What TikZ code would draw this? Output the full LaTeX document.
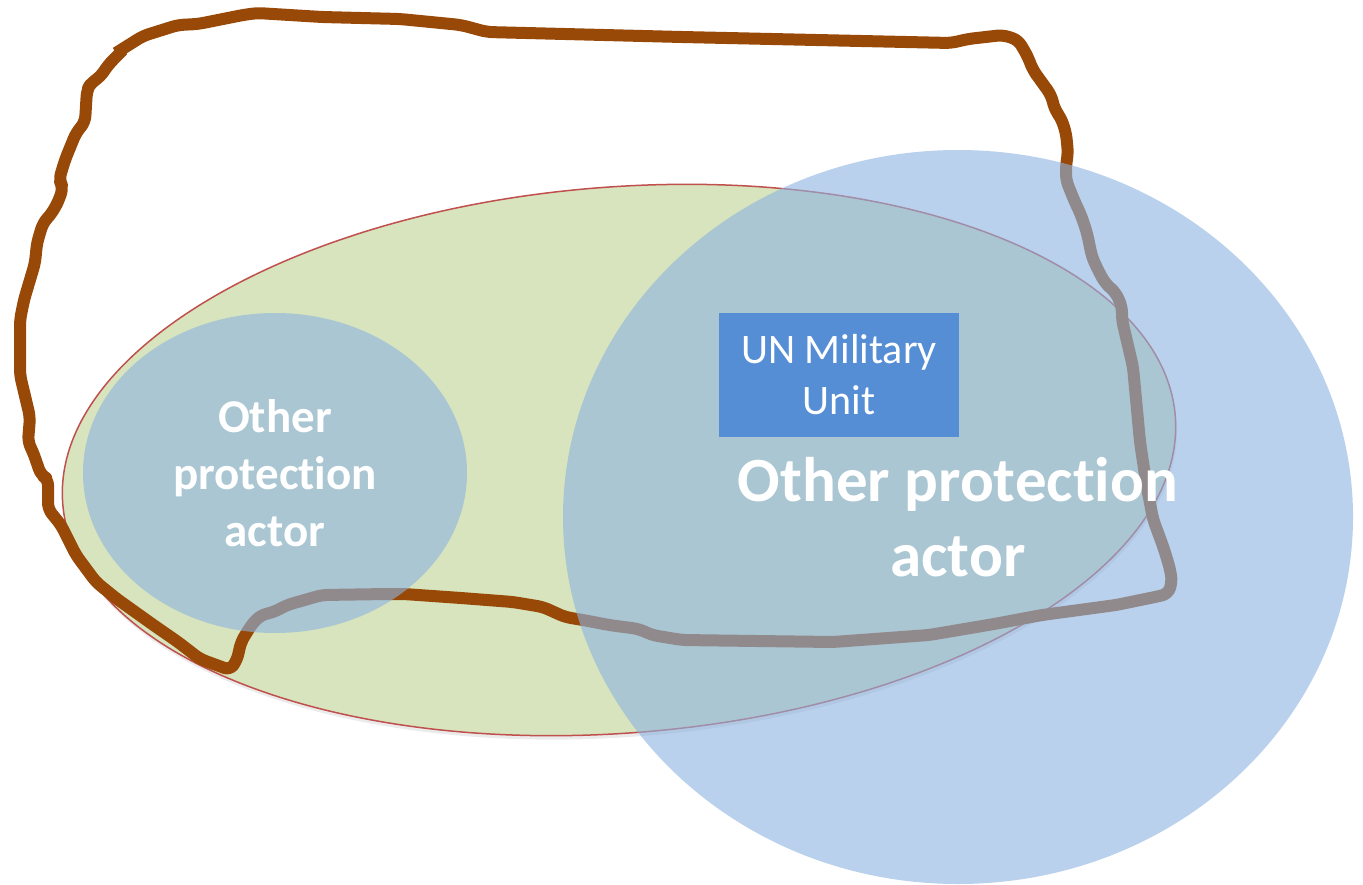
\documentclass[tikz,border=0pt]{standalone}
\usepackage{fontspec}
\setmainfont{Carlito}[Ligatures=NoCommon]
\usetikzlibrary{positioning}
\definecolor{zonegreen}{RGB}{215,228,189}
\definecolor{zonered}{RGB}{192,80,77}
\definecolor{actorblue}{RGB}{142,180,224}
\definecolor{unitblue}{RGB}{85,142,213}
\definecolor{aobrown}{RGB}{152,72,7}

\begin{document}
\begin{tikzpicture}[
    x=0.5pt, y=-0.5pt,
    actor/.style={fill=actorblue, fill opacity=0.62},
    actortext/.style={text=white, align=center, inner sep=0pt},
    unitbox/.style={fill=unitblue, text=white, align=center, inner sep=0pt,
        minimum width=120pt, minimum height=62pt, font=\fontsize{21}{25.5}\selectfont},
    aoline/.style={aobrown, line width=6pt, line join=round, rounded corners=3pt}
]
    \useasboundingbox (0,0) rectangle (1363,884);

    \fill[black, opacity=0.08, rotate around={4.5:(619,460)}] (620,464) ellipse [x radius=558, y radius=273];
    \draw[zonered, line width=0.75pt, fill=zonegreen, rotate around={4.5:(619,460)}] (619,460) ellipse [x radius=558, y radius=273];

    \draw[aoline] (116,53) -- (143,36) -- (178,25) -- (198,24) -- (243,15) -- (257,13) -- (322,17)
        -- (400,19) -- (461,25) -- (487,32) -- (682,37) -- (951,43) -- (968,39) -- (1003,35)
        -- (1018,40) -- (1027,55) -- (1033,70) -- (1051,95) -- (1055,110) -- (1061,118)
        -- (1066,133) -- (1068,153) -- (1066,165) -- (1066,180) -- (1074,200) -- (1081,215)
        -- (1087,233) -- (1092,257) -- (1098,270) -- (1105,283) -- (1116,293) -- (1122,307)
        -- (1122,320) -- (1133,367) -- (1140,442) -- (1146,482) -- (1153,519) -- (1164,549)
        -- (1170,569) -- (1172,582) -- (1168,594) -- (1155,597) -- (1116,605) -- (1042,615)
        -- (994,624) -- (929,635) -- (833,642) -- (682,640) -- (652,635) -- (639,629)
        -- (609,625) -- (583,620) -- (565,617) -- (543,607) -- (513,602) -- (461,598)
        -- (404,594) -- (387,594) -- (322,595) -- (287,605) -- (274,612) -- (261,615)
        -- (252,624) -- (241,642) -- (237,660) -- (230,670) -- (200,659) -- (178,642)
        -- (152,624) -- (117,599) -- (96,582) -- (76,555) -- (61,525) -- (48,509) -- (48,479)
        -- (41,475) -- (33,452) -- (28,442) -- (30,417) -- (20,375) -- (20,320) -- (24,300)
        -- (35,263) -- (37,243) -- (43,223) -- (52,213) -- (59,200) -- (63,187) -- (59,180)
        -- (65,160) -- (76,133) -- (85,122) -- (87,90) -- (91,83) -- (100,77) -- (109,64)
        -- (123,50);

    \fill[actor] (275,473) ellipse [x radius=192, y radius=160];
    \fill[actor] (958,517) ellipse [x radius=395, y radius=367];

    \node[unitbox] (unit) at (839,375) {UN Military\\Unit};
    \node[actortext, font=\bfseries\fontsize{23.5}{28.5}\selectfont] (smallactor) at (275,473) {Other\\protection\\actor};
    \node[actortext, font=\bfseries\fontsize{31.5}{37.5}\selectfont] (bigactor) at (958,517) {Other protection\\actor};
\end{tikzpicture}
\end{document}
